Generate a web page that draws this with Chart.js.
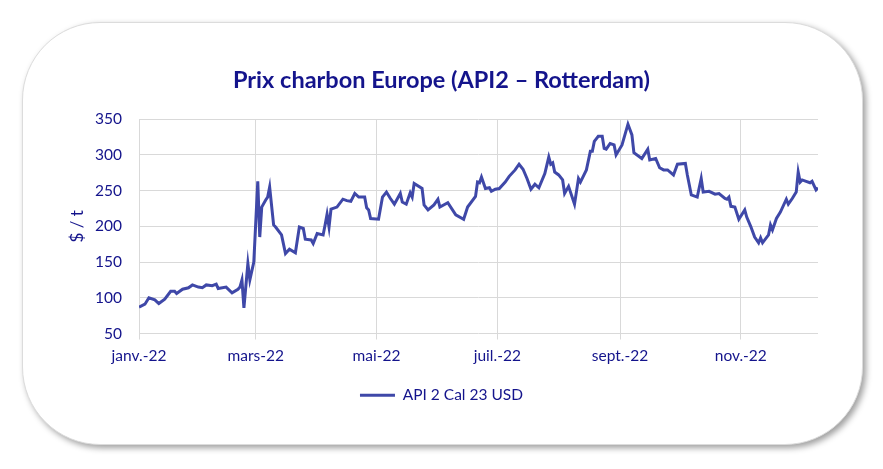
<!DOCTYPE html>
<html lang="fr">
<head>
<meta charset="utf-8">
<title>Prix charbon Europe</title>
<script src="https://cdn.jsdelivr.net/npm/chart.js@4"></script>
<style>
    html, body { margin: 0; padding: 0; background: #fff; }
    #wrap { position: relative; width: 883px; height: 469px; }
    #frame {
        position: absolute; left: 22px; top: 22px; width: 839px; height: 421px;
        border: 1px solid #dcdcdc; border-radius: 78px;
        box-shadow: 3px 3px 6px rgba(0, 0, 0, 0.38);
        background: #fff;
    }
    #chart { position: absolute; left: 0; top: 0; }
</style>
</head>
<body>
<div id="wrap">
    <div id="frame"></div>
    <canvas id="chart" width="883" height="469"></canvas>
</div>
<script>
// jours depuis le 1er janvier 2022
const days = [
    0, 3, 5, 8, 10, 13, 16, 18, 19, 22, 25, 27, 30, 32, 34, 37, 39, 40, 44, 47,
    50, 51, 52, 53, 55, 56, 58, 60, 61, 62, 64, 65, 66, 68, 69, 72, 74, 76, 79, 81,
    83, 84, 87, 88, 90, 93, 94, 95, 96, 97, 100, 103, 105, 107, 109, 111, 114, 115, 116, 117,
    121, 123, 125, 127, 129, 132, 133, 135, 137, 138, 139, 143, 144, 146, 149, 151, 152, 156, 160, 164,
    166, 170, 171, 172, 173, 175, 177, 178, 180, 182, 185, 187, 190, 192, 194, 196, 198, 200, 202, 205,
    207, 208, 209, 210, 212, 214, 215, 217, 220, 222, 223, 226, 228, 229, 230, 232, 234, 235, 236, 238,
    240, 241, 244, 247, 249, 250, 254, 257, 258, 261, 263, 265, 267, 270, 272, 276, 277, 279, 282, 284,
    285, 288, 291, 293, 296, 297, 298, 299, 301, 303, 306, 307, 309, 311, 313, 314, 315, 318, 319, 320,
    322, 324, 327, 328, 330, 332, 333, 334, 335, 337, 339, 340, 342, 343
];
// API 2 Cal 23, $/t
const api2Cal23 = [
    87, 91, 100, 97, 92, 98, 109, 109, 106, 112, 114, 118, 115, 114, 118, 117, 119, 113, 115, 107,
    112, 115, 125, 86, 148, 125, 150, 263, 185, 227, 237, 241, 255, 202, 199, 188, 162, 168, 163, 199,
    197, 182, 181, 176, 190, 188, 202, 217, 199, 224, 227, 238, 236, 235, 246, 241, 241, 226, 223, 211,
    210, 241, 248, 239, 231, 246, 234, 231, 247, 241, 260, 253, 230, 223, 230, 238, 227, 233, 216, 210,
    227, 242, 262, 261, 269, 253, 254, 249, 252, 253, 262, 270, 279, 287, 280, 267, 252, 259, 254, 274,
    297, 287, 289, 276, 272, 265, 246, 256, 231, 267, 262, 279, 305, 305, 319, 326, 326, 309, 308, 316,
    314, 300, 314, 343, 328, 303, 295, 308, 293, 295, 282, 279, 279, 272, 287, 288, 272, 244, 241, 267,
    248, 249, 245, 246, 239, 238, 241, 228, 227, 210, 223, 213, 200, 185, 177, 184, 177, 188, 202, 195,
    211, 220, 238, 231, 239, 248, 276, 262, 265, 263, 261, 263, 251, 254
];
const tickDays = [0, 59, 120, 181, 243, 304];
const tickLabels = ['janv.-22', 'mars-22', 'mai-22', 'juil.-22', 'sept.-22', 'nov.-22'];
const yTicks = [50, 100, 150, 200, 250, 300, 350];

const navy = '#14148c';
const lineColor = '#3f48a8';
const gridColor = '#d9d9d9';
const fontFamily = 'Lato, "Open Sans", sans-serif';

const points = days.map((d, i) => ({ x: d, y: api2Cal23[i] }));

new Chart(document.getElementById('chart'), {
    type: 'line',
    data: {
        datasets: [{
            label: 'API 2 Cal 23 USD',
            data: points,
            borderColor: lineColor,
            backgroundColor: lineColor,
            borderWidth: 3,
            pointRadius: 0,
            tension: 0,
            pointStyle: 'line'
        }]
    },
    options: {
        responsive: false,
        animation: false,
        layout: { padding: { top: 0, right: 0, bottom: 56, left: 0 } },
        plugins: {
            title: {
                display: true,
                text: 'Prix charbon Europe (API2 \u2013 Rotterdam)',
                color: navy,
                font: { family: fontFamily, size: 23.5, weight: 'bold', lineHeight: 1.2 },
                padding: { top: 66, bottom: 25 }
            },
            legend: {
                position: 'bottom',
                labels: {
                    color: navy,
                    font: { family: fontFamily, size: 15.5 },
                    usePointStyle: true,
                    pointStyleWidth: 35,
                    boxHeight: 3,
                    padding: 12
                }
            },
            tooltip: { enabled: false }
        },
        scales: {
            x: {
                type: 'linear',
                min: 0,
                max: 343,
                afterBuildTicks: scale => { scale.ticks = tickDays.map(v => ({ value: v })); },
                afterFit: scale => { scale.height = 42; },
                ticks: {
                    autoSkip: false,
                    maxRotation: 0,
                    color: navy,
                    font: { family: fontFamily, size: 15.5 },
                    padding: 7,
                    callback: value => tickLabels[tickDays.indexOf(value)] || ''
                },
                grid: { color: gridColor, lineWidth: 1, drawTicks: true, tickLength: 6 },
                border: { display: false }
            },
            y: {
                min: 50,
                max: 350,
                afterBuildTicks: scale => { scale.ticks = yTicks.map(v => ({ value: v })); },
                afterFit: scale => { scale.width = 139; },
                ticks: {
                    color: navy,
                    font: { family: fontFamily, size: 15.5 },
                    padding: 17
                },
                grid: { color: gridColor, lineWidth: 1, drawTicks: false },
                border: { display: false },
                title: {
                    display: true,
                    text: '$ / t',
                    color: navy,
                    font: { family: fontFamily, size: 17 },
                    padding: { top: 67, bottom: 0 }
                }
            },
            // axe vide à droite : garde la marge sans décentrer titre et légende
            yRight: {
                position: 'right',
                min: 0,
                max: 1,
                afterFit: scale => { scale.width = 65; },
                ticks: { display: false },
                grid: { display: false },
                border: { display: false }
            }
        }
    }
});
</script>
</body>
</html>
